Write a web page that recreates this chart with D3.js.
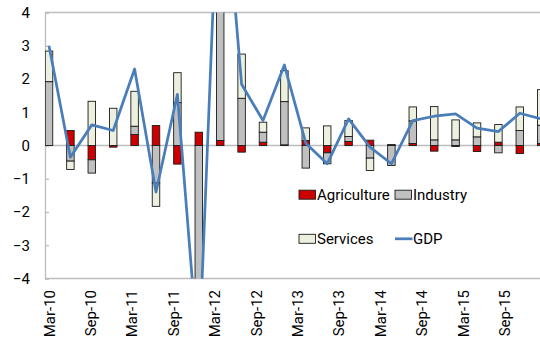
<!DOCTYPE html>
<html>
<head>
<meta charset="utf-8">
<script src="https://cdn.jsdelivr.net/npm/d3@7"></script>
<style>
  body { margin: 0; background: #fff; }
  svg { display: block; }
  text { font-family: Roboto, "Liberation Sans", sans-serif; fill: #000; }
</style>
</head>
<body>
<svg id="chart" width="540" height="339"></svg>
<script>
// Quarterly contributions to GDP growth by sector (percentage points)
const quarters = [
  "Mar-10","Jun-10","Sep-10","Dec-10","Mar-11","Jun-11","Sep-11","Dec-11",
  "Mar-12","Jun-12","Sep-12","Dec-12","Mar-13","Jun-13","Sep-13","Dec-13",
  "Mar-14","Jun-14","Sep-14","Dec-14","Mar-15","Jun-15","Sep-15","Dec-15"
];
const agriculture = [0.00, 0.45, -0.43, -0.05, 0.33, 0.60, -0.56, 0.40,
                     0.15, -0.20, 0.10, 0.02, 0.15, -0.22, 0.12, 0.16,
                     0.00, 0.06, -0.17, -0.03, -0.18, 0.10, -0.24, 0.06];
const industry = [1.92, -0.47, -0.40, 0.00, 0.25, -1.13, 1.29, -7.00,
                  8.00, 1.42, 0.30, 1.30, -0.68, -0.33, 0.15, -0.38,
                  -0.60, 0.68, 0.17, 0.17, 0.26, -0.22, 0.45, 0.55];
const services = [0.92, -0.25, 1.33, 1.12, 1.05, -0.70, 0.90, -0.50,
                  1.20, 1.33, 0.30, 0.93, 0.38, 0.59, 0.48, -0.37,
                  0.03, 0.42, 1.00, 0.60, 0.42, 0.53, 0.71, 1.07];
const gdp = [3.00, -0.35, 0.62, 0.45, 2.30, -1.40, 1.54, -6.50,
             9.50, 1.84, 0.75, 2.42, 0.07, -0.55, 0.80, -0.05,
             -0.55, 0.75, 0.88, 0.95, 0.52, 0.42, 0.97, 0.80];
const tickLabels = ["Mar-10","Sep-10","Mar-11","Sep-11","Mar-12","Sep-12",
                    "Mar-13","Sep-13","Mar-14","Sep-14","Mar-15","Sep-15"];
const yTicks = [-4, -3, -2, -1, 0, 1, 2, 3, 4];

const sectorKeys = ["Agriculture", "Industry", "Services"];
const sectorColors = { Agriculture: "#CC0000", Industry: "#C0C0C0", Services: "#EBF1DE" };
const lineColor = "#4A7EBB";
const axisGray = "#BDBDBD";

const svg = d3.select("#chart");
const plot = { left: 45, right: 560, top: 12.5, bottom: 278.5 };

const y = d3.scaleLinear().domain([-4, 4]).range([plot.bottom, plot.top]);
const x = d3.scalePoint().domain(quarters).range([49, 541.2]);
const xLabel = d3.scalePoint().domain(tickLabels).range([49.5, 505]);
const barWidth = 7.5;

svg.append("defs").append("clipPath").attr("id", "plot-clip")
  .append("rect")
  .attr("x", plot.left).attr("y", plot.top)
  .attr("width", plot.right - plot.left).attr("height", plot.bottom - plot.top);

// Plot frame and zero line
const frame = svg.append("g").attr("stroke", axisGray).attr("stroke-width", 1.3).attr("fill", "none");
frame.append("line").attr("x1", plot.left).attr("x2", plot.right).attr("y1", plot.top).attr("y2", plot.top);
frame.append("line").attr("x1", plot.left).attr("x2", plot.right).attr("y1", plot.bottom).attr("y2", plot.bottom);
frame.append("line").attr("x1", plot.left).attr("x2", plot.right).attr("y1", y(0)).attr("y2", y(0));

// Y axis: labels on the left, tick marks pointing into the plot
const yAxis = d3.axisLeft(y).tickValues(yTicks).tickSize(-4).tickPadding(15).tickFormat(d3.format("d"));
const yAxisG = svg.append("g").attr("transform", `translate(${plot.left},0)`).call(yAxis);
yAxisG.select(".domain").attr("stroke", axisGray).attr("stroke-width", 1.3);
yAxisG.selectAll(".tick line").attr("stroke", axisGray).attr("stroke-width", 1.3);
yAxisG.selectAll(".tick text").attr("font-size", 15).attr("font-family", "Roboto, sans-serif").attr("fill", "#000");

// Stacked bars, positives above zero and negatives below
const rows = quarters.map((q, i) => ({
  quarter: q, Agriculture: agriculture[i], Industry: industry[i], Services: services[i]
}));
const stacked = d3.stack().keys(sectorKeys).offset(d3.stackOffsetDiverging)(rows);

const barsG = svg.append("g").attr("clip-path", "url(#plot-clip)");
barsG.selectAll("g.series")
  .data(stacked)
  .join("g")
  .attr("class", "series")
  .attr("fill", s => sectorColors[s.key])
  .selectAll("rect")
  .data(s => s.filter(d => d[1] !== d[0]))
  .join("rect")
  .attr("x", d => x(d.data.quarter) - barWidth / 2)
  .attr("width", barWidth)
  .attr("y", d => y(Math.max(d[0], d[1])))
  .attr("height", d => Math.abs(y(d[0]) - y(d[1])))
  .attr("stroke", "#1a1a1a")
  .attr("stroke-width", 0.9);

// GDP line
const line = d3.line().x((d, i) => x(quarters[i])).y(d => y(d));
svg.append("g").attr("clip-path", "url(#plot-clip)")
  .append("path")
  .datum(gdp)
  .attr("d", line)
  .attr("fill", "none")
  .attr("stroke", lineColor)
  .attr("stroke-width", 2.75)
  .attr("stroke-linejoin", "round");

// X axis labels, rotated
const xAxisG = svg.append("g");
xAxisG.selectAll("text")
  .data(tickLabels)
  .join("text")
  .attr("transform", d => `translate(${xLabel(d)},290) rotate(-90)`)
  .attr("text-anchor", "end")
  .attr("dominant-baseline", "central")
  .attr("font-size", 15)
  .text(d => d);

// Legend
const legendItems = [
  { name: "Agriculture", kind: "bar", color: sectorColors.Agriculture, x: 299, y: 194.7 },
  { name: "Industry", kind: "bar", color: sectorColors.Industry, x: 395, y: 194.7 },
  { name: "Services", kind: "bar", color: sectorColors.Services, x: 299, y: 238.8 },
  { name: "GDP", kind: "line", color: lineColor, x: 395, y: 238.8 }
];
const legend = svg.append("g");
const items = legend.selectAll("g").data(legendItems).join("g")
  .attr("transform", d => `translate(${d.x},${d.y})`);
items.filter(d => d.kind === "bar").append("rect")
  .attr("x", 0).attr("y", -4.5).attr("width", 16.5).attr("height", 9)
  .attr("fill", d => d.color).attr("stroke", "#1a1a1a").attr("stroke-width", 0.9);
items.filter(d => d.kind === "line").append("line")
  .attr("x1", 0).attr("x2", 17.5).attr("y1", 0).attr("y2", 0)
  .attr("stroke", d => d.color).attr("stroke-width", 2.75);
items.append("text")
  .attr("x", 18).attr("y", 0)
  .attr("dominant-baseline", "central")
  .attr("font-size", 15)
  .text(d => d.name);
</script>
</body>
</html>
